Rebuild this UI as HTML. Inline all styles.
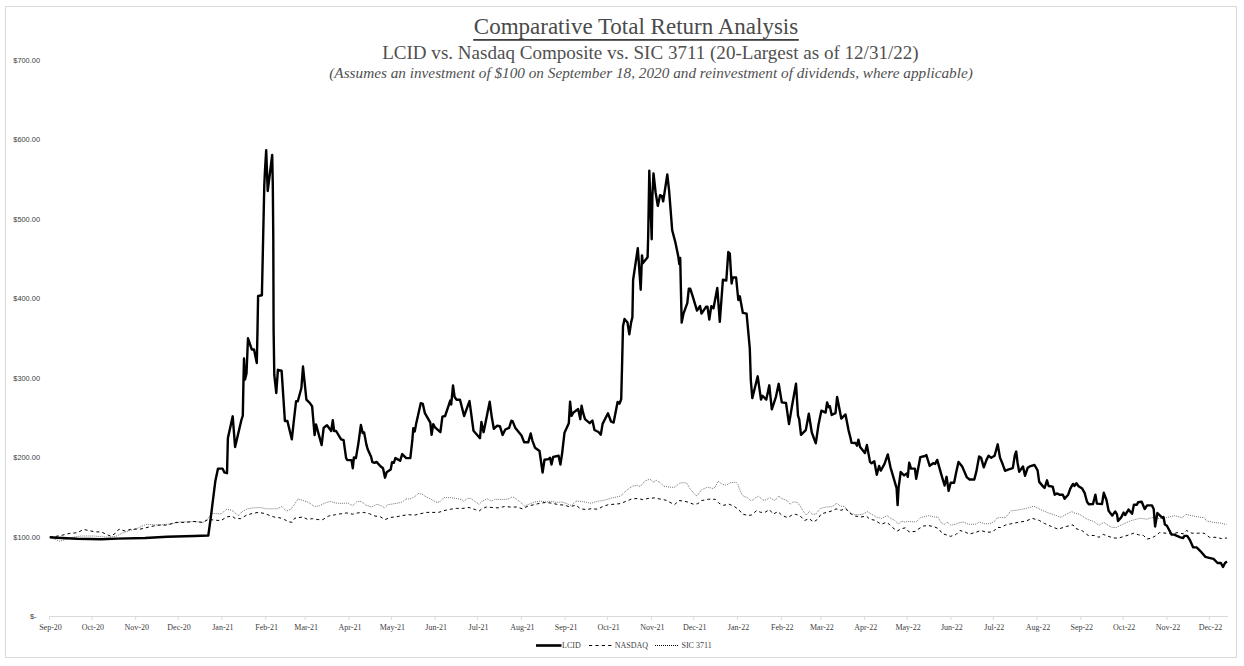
<!DOCTYPE html>
<html><head><meta charset="utf-8"><style>
html,body{margin:0;padding:0;background:#fff;}
svg{display:block;}
text{font-family:"Liberation Serif",serif;fill:#404040;}
.t1{font-size:23px;fill:#4a4a4a;}
.t2{font-size:19.06px;fill:#505050;}
.t3{font-size:15.26px;font-style:italic;fill:#505050;}
.yl{font-family:"Liberation Sans",sans-serif;font-size:7.4px;fill:#404040;}
.xl{font-size:8px;fill:#404040;}
.lg{font-size:8px;fill:#404040;}
</style></head><body>
<svg width="1244" height="666" viewBox="0 0 1244 666">
<rect x="5.5" y="6.5" width="1231" height="651" fill="#fff" stroke="#d9d9d9" stroke-width="1"/>
<text x="636" y="34" text-anchor="middle" class="t1">Comparative Total Return Analysis</text>
<rect x="473.2" y="39" width="325.6" height="1.8" fill="#404040"/>
<text x="650.4" y="58.6" text-anchor="middle" class="t2">LCID vs. Nasdaq Composite vs. SIC 3711 (20-Largest as of 12/31/22)</text>
<text x="651" y="77.5" text-anchor="middle" class="t3">(Assumes an investment of $100 on September 18, 2020 and reinvestment of dividends, where applicable)</text>
<text x="40" y="539.6" text-anchor="end" class="yl">$100.00</text>
<text x="40" y="460.1" text-anchor="end" class="yl">$200.00</text>
<text x="40" y="380.7" text-anchor="end" class="yl">$300.00</text>
<text x="40" y="301.3" text-anchor="end" class="yl">$400.00</text>
<text x="40" y="221.8" text-anchor="end" class="yl">$500.00</text>
<text x="40" y="142.4" text-anchor="end" class="yl">$600.00</text>
<text x="40" y="63.0" text-anchor="end" class="yl">$700.00</text>
<text x="30" y="619.0" class="yl">$-</text>
<line x1="49.5" y1="616.5" x2="1228" y2="616.5" stroke="#d9d9d9" stroke-width="1"/>
<line x1="49.5" y1="616.4" x2="49.5" y2="619.9" stroke="#d9d9d9" stroke-width="1"/>
<text x="50.5" y="629.5" text-anchor="middle" class="xl">Sep-20</text>
<line x1="91.9" y1="616.4" x2="91.9" y2="619.9" stroke="#d9d9d9" stroke-width="1"/>
<text x="92.9" y="629.5" text-anchor="middle" class="xl">Oct-20</text>
<line x1="135.7" y1="616.4" x2="135.7" y2="619.9" stroke="#d9d9d9" stroke-width="1"/>
<text x="136.7" y="629.5" text-anchor="middle" class="xl">Nov-20</text>
<line x1="178.1" y1="616.4" x2="178.1" y2="619.9" stroke="#d9d9d9" stroke-width="1"/>
<text x="179.1" y="629.5" text-anchor="middle" class="xl">Dec-20</text>
<line x1="221.9" y1="616.4" x2="221.9" y2="619.9" stroke="#d9d9d9" stroke-width="1"/>
<text x="222.9" y="629.5" text-anchor="middle" class="xl">Jan-21</text>
<line x1="265.7" y1="616.4" x2="265.7" y2="619.9" stroke="#d9d9d9" stroke-width="1"/>
<text x="266.7" y="629.5" text-anchor="middle" class="xl">Feb-21</text>
<line x1="305.2" y1="616.4" x2="305.2" y2="619.9" stroke="#d9d9d9" stroke-width="1"/>
<text x="306.2" y="629.5" text-anchor="middle" class="xl">Mar-21</text>
<line x1="349.0" y1="616.4" x2="349.0" y2="619.9" stroke="#d9d9d9" stroke-width="1"/>
<text x="350.0" y="629.5" text-anchor="middle" class="xl">Apr-21</text>
<line x1="391.4" y1="616.4" x2="391.4" y2="619.9" stroke="#d9d9d9" stroke-width="1"/>
<text x="392.4" y="629.5" text-anchor="middle" class="xl">May-21</text>
<line x1="435.2" y1="616.4" x2="435.2" y2="619.9" stroke="#d9d9d9" stroke-width="1"/>
<text x="436.2" y="629.5" text-anchor="middle" class="xl">Jun-21</text>
<line x1="477.6" y1="616.4" x2="477.6" y2="619.9" stroke="#d9d9d9" stroke-width="1"/>
<text x="478.6" y="629.5" text-anchor="middle" class="xl">Jul-21</text>
<line x1="521.4" y1="616.4" x2="521.4" y2="619.9" stroke="#d9d9d9" stroke-width="1"/>
<text x="522.4" y="629.5" text-anchor="middle" class="xl">Aug-21</text>
<line x1="565.2" y1="616.4" x2="565.2" y2="619.9" stroke="#d9d9d9" stroke-width="1"/>
<text x="566.2" y="629.5" text-anchor="middle" class="xl">Sep-21</text>
<line x1="607.6" y1="616.4" x2="607.6" y2="619.9" stroke="#d9d9d9" stroke-width="1"/>
<text x="608.6" y="629.5" text-anchor="middle" class="xl">Oct-21</text>
<line x1="651.4" y1="616.4" x2="651.4" y2="619.9" stroke="#d9d9d9" stroke-width="1"/>
<text x="652.4" y="629.5" text-anchor="middle" class="xl">Nov-21</text>
<line x1="693.7" y1="616.4" x2="693.7" y2="619.9" stroke="#d9d9d9" stroke-width="1"/>
<text x="694.7" y="629.5" text-anchor="middle" class="xl">Dec-21</text>
<line x1="737.5" y1="616.4" x2="737.5" y2="619.9" stroke="#d9d9d9" stroke-width="1"/>
<text x="738.5" y="629.5" text-anchor="middle" class="xl">Jan-22</text>
<line x1="781.3" y1="616.4" x2="781.3" y2="619.9" stroke="#d9d9d9" stroke-width="1"/>
<text x="782.3" y="629.5" text-anchor="middle" class="xl">Feb-22</text>
<line x1="820.9" y1="616.4" x2="820.9" y2="619.9" stroke="#d9d9d9" stroke-width="1"/>
<text x="821.9" y="629.5" text-anchor="middle" class="xl">Mar-22</text>
<line x1="864.7" y1="616.4" x2="864.7" y2="619.9" stroke="#d9d9d9" stroke-width="1"/>
<text x="865.7" y="629.5" text-anchor="middle" class="xl">Apr-22</text>
<line x1="907.1" y1="616.4" x2="907.1" y2="619.9" stroke="#d9d9d9" stroke-width="1"/>
<text x="908.1" y="629.5" text-anchor="middle" class="xl">May-22</text>
<line x1="950.9" y1="616.4" x2="950.9" y2="619.9" stroke="#d9d9d9" stroke-width="1"/>
<text x="951.9" y="629.5" text-anchor="middle" class="xl">Jun-22</text>
<line x1="993.3" y1="616.4" x2="993.3" y2="619.9" stroke="#d9d9d9" stroke-width="1"/>
<text x="994.3" y="629.5" text-anchor="middle" class="xl">Jul-22</text>
<line x1="1037.0" y1="616.4" x2="1037.0" y2="619.9" stroke="#d9d9d9" stroke-width="1"/>
<text x="1038.0" y="629.5" text-anchor="middle" class="xl">Aug-22</text>
<line x1="1080.8" y1="616.4" x2="1080.8" y2="619.9" stroke="#d9d9d9" stroke-width="1"/>
<text x="1081.8" y="629.5" text-anchor="middle" class="xl">Sep-22</text>
<line x1="1123.2" y1="616.4" x2="1123.2" y2="619.9" stroke="#d9d9d9" stroke-width="1"/>
<text x="1124.2" y="629.5" text-anchor="middle" class="xl">Oct-22</text>
<line x1="1167.0" y1="616.4" x2="1167.0" y2="619.9" stroke="#d9d9d9" stroke-width="1"/>
<text x="1168.0" y="629.5" text-anchor="middle" class="xl">Nov-22</text>
<line x1="1209.4" y1="616.4" x2="1209.4" y2="619.9" stroke="#d9d9d9" stroke-width="1"/>
<text x="1210.4" y="629.5" text-anchor="middle" class="xl">Dec-22</text>
<path d="M49.8,537.3 L55.5,539.6 L59.5,541.2 L65.1,539.6 L73.1,537.2 L81.2,536.0 L93.2,536.0 L102.9,536.8 L109.3,537.2 L115.7,536.4 L122.2,533.1 L129.4,530.7 L137.4,528.3 L143.0,525.5 L147.2,524.2 L158.0,525.1 L171.5,523.8 L180.5,522.0 L194.0,521.5 L203.0,522.4 L208.5,518.0 L212.0,513.4 L221.0,513.9 L226.5,509.4 L231.9,510.3 L235.0,512.9 L238.6,515.6 L242.2,511.5 L247.6,508.8 L253.0,507.9 L260.2,507.5 L266.5,508.8 L272.8,508.8 L277.3,508.8 L281.8,506.6 L286.4,511.1 L290.9,509.3 L294.5,504.3 L298.1,498.9 L303.5,500.7 L308.9,502.5 L314.3,506.6 L319.7,505.7 L325.1,503.0 L330.0,501.4 L335.4,503.0 L340.8,503.4 L348.0,503.0 L352.5,505.7 L357.0,501.6 L361.5,501.6 L366.0,505.2 L371.4,507.0 L376.8,504.3 L381.4,505.7 L384.5,507.9 L387.7,504.8 L393.1,503.9 L398.5,503.0 L403.0,501.6 L405.7,498.9 L410.2,498.9 L414.7,496.7 L418.3,493.5 L421.9,494.0 L425.5,496.5 L430.4,498.9 L435.8,502.1 L439.4,502.1 L443.9,497.6 L450.2,497.6 L456.5,498.5 L461.0,499.4 L463.7,501.2 L467.3,498.5 L470.9,498.5 L474.5,501.2 L479.1,504.3 L482.7,500.7 L487.2,498.9 L491.7,501.2 L494.4,499.4 L499.8,499.4 L504.3,499.4 L508.8,498.9 L512.4,496.7 L516.0,498.9 L519.6,501.6 L522.3,503.9 L524.5,506.0 L529.0,504.2 L534.4,502.0 L540.7,501.1 L547.0,502.0 L550.6,501.1 L556.0,502.4 L561.4,502.0 L565.9,503.3 L571.4,505.6 L575.9,501.1 L581.3,501.5 L586.7,502.4 L591.2,503.3 L596.6,501.5 L602.0,500.6 L606.5,499.7 L611.9,497.9 L616.4,497.0 L620.4,496.1 L625.8,491.1 L632.1,486.2 L637.5,485.3 L640.2,486.6 L644.7,481.2 L650.1,479.0 L652.8,482.1 L656.4,480.3 L660.0,482.6 L663.6,486.2 L669.1,487.1 L674.5,487.3 L679.9,483.0 L684.4,482.6 L687.1,483.5 L689.8,488.4 L693.4,492.9 L697.0,496.1 L701.5,489.8 L707.8,487.1 L712.3,488.4 L715.0,487.5 L718.1,481.3 L722.6,484.4 L726.2,485.3 L730.7,482.6 L736.1,482.2 L737.9,484.4 L740.6,492.1 L743.3,496.1 L747.8,497.9 L751.4,501.1 L755.0,497.9 L758.6,496.3 L763.2,500.2 L766.8,499.7 L769.5,497.5 L774.9,500.6 L778.5,496.1 L782.1,498.8 L786.6,500.2 L790.2,504.2 L792.9,502.0 L797.4,502.4 L800.1,506.0 L802.8,510.5 L806.4,515.0 L809.5,511.4 L812.7,514.3 L815.8,514.1 L820.3,508.5 L825.7,507.1 L832.0,506.7 L837.0,503.1 L840.1,506.2 L844.6,506.4 L847.3,509.8 L851.8,513.9 L857.3,514.8 L862.7,514.3 L867.2,511.6 L871.7,514.3 L876.2,517.0 L881.6,518.4 L887.0,515.7 L891.5,518.8 L895.1,520.6 L898.7,524.2 L901.4,521.1 L904.5,522.0 L909.0,521.5 L916.2,522.0 L920.7,517.5 L928.8,515.7 L934.2,517.0 L937.8,517.0 L941.4,522.9 L944.1,524.7 L946.8,522.0 L950.5,525.1 L954.1,524.7 L958.6,522.9 L963.1,522.0 L968.5,524.2 L975.7,524.2 L979.3,522.0 L984.7,523.8 L989.2,523.8 L993.7,522.0 L997.3,517.9 L1000.5,517.5 L1005.4,517.7 L1010.8,510.9 L1017.6,510.0 L1024.3,508.9 L1033.8,506.2 L1040.5,509.6 L1048.6,513.0 L1056.8,515.7 L1060.8,517.3 L1067.6,513.6 L1071.6,511.6 L1075.0,513.2 L1079.8,514.4 L1087.0,519.2 L1094.2,521.7 L1099.0,525.3 L1103.8,522.3 L1111.0,527.1 L1115.8,527.7 L1123.0,524.1 L1131.5,520.5 L1139.9,518.3 L1147.1,519.2 L1151.9,517.6 L1158.1,518.4 L1166.2,517.7 L1174.3,515.7 L1182.4,517.7 L1185.8,514.3 L1191.9,515.7 L1198.6,517.0 L1204.1,517.7 L1206.8,521.1 L1213.5,522.4 L1220.3,523.1 L1226.4,524.5" fill="none" stroke="#000" stroke-width="0.8" stroke-dasharray="0.9 1.1" stroke-opacity="0.75"/>
<path d="M49.8,537.3 L55.0,536.5 L61.0,535.5 L69.1,533.5 L77.2,532.7 L83.6,529.5 L89.2,530.6 L94.8,531.9 L101.3,531.9 L106.1,534.3 L110.9,536.2 L115.7,533.1 L119.0,529.1 L125.4,531.1 L130.2,529.4 L136.6,529.1 L140.0,529.2 L149.0,527.0 L158.0,525.1 L167.0,525.1 L176.0,522.4 L185.0,522.4 L194.0,521.5 L203.0,522.4 L208.5,519.3 L214.8,520.2 L221.0,520.6 L226.5,517.0 L231.9,516.1 L235.0,518.3 L240.4,518.7 L246.7,515.1 L252.1,513.5 L258.4,512.4 L264.7,513.5 L271.0,516.0 L275.5,517.4 L280.0,517.8 L284.5,519.6 L289.1,521.9 L292.2,522.3 L294.5,518.3 L298.1,517.8 L302.6,516.9 L307.1,519.2 L312.5,518.7 L317.9,519.6 L322.8,519.6 L328.7,516.0 L335.4,514.7 L340.8,513.8 L346.7,512.9 L352.5,514.2 L357.9,512.9 L363.8,512.4 L369.6,513.8 L375.0,516.0 L380.5,516.9 L385.0,519.6 L390.4,517.4 L396.2,516.9 L402.1,515.6 L408.4,514.7 L414.7,515.1 L420.1,513.8 L426.4,512.4 L432.2,512.4 L438.5,512.4 L443.9,510.6 L450.2,509.3 L456.5,508.4 L462.8,508.4 L469.1,507.5 L475.5,509.7 L479.1,511.1 L481.3,509.3 L486.3,507.0 L492.1,507.5 L498.0,507.9 L504.3,506.6 L510.6,507.0 L516.9,507.0 L522.3,508.8 L528.1,506.0 L534.0,504.7 L539.8,503.3 L546.1,502.4 L552.4,503.3 L558.7,504.7 L564.6,505.1 L569.5,506.9 L575.9,505.1 L580.4,508.7 L586.2,509.6 L591.2,508.7 L597.5,509.2 L602.9,506.5 L608.3,504.7 L614.6,504.2 L620.4,503.6 L626.3,501.2 L632.1,498.8 L638.4,498.5 L642.9,499.7 L649.2,498.2 L654.6,497.9 L660.9,499.2 L666.4,500.3 L670.0,502.4 L674.5,504.6 L679.0,500.6 L683.5,501.0 L687.1,501.9 L689.8,502.8 L693.4,504.2 L697.9,503.7 L701.5,500.6 L708.7,499.2 L715.4,499.3 L719.0,503.3 L723.5,505.3 L728.9,504.1 L734.3,506.5 L738.8,509.6 L742.4,514.0 L747.8,515.5 L751.4,515.0 L756.8,510.5 L760.5,512.3 L765.0,512.3 L769.5,509.6 L773.1,514.1 L778.0,511.6 L782.1,515.5 L787.9,517.7 L791.1,515.5 L795.6,514.3 L800.1,515.9 L804.6,520.5 L809.1,518.6 L813.6,522.0 L817.6,519.3 L821.2,513.9 L826.2,512.5 L831.1,511.2 L836.1,508.9 L841.0,510.3 L845.5,508.5 L850.0,513.4 L855.5,516.1 L860.9,517.0 L866.3,516.1 L869.9,519.3 L874.8,520.2 L878.9,522.9 L881.6,524.2 L886.1,522.4 L889.2,524.2 L892.8,527.8 L897.3,531.0 L901.4,528.7 L905.4,527.8 L909.0,531.9 L915.3,531.4 L918.9,528.7 L923.4,526.0 L928.8,525.6 L934.2,526.8 L938.7,528.7 L942.3,533.7 L946.8,535.0 L950.5,536.4 L955.9,534.6 L959.9,530.5 L964.9,531.9 L969.4,534.1 L975.7,532.3 L981.1,530.5 L986.5,532.3 L992.8,531.9 L997.3,527.4 L1000.5,527.5 L1005.4,525.1 L1010.8,523.8 L1018.9,522.2 L1025.7,521.1 L1032.4,518.4 L1039.2,520.4 L1044.6,523.5 L1051.4,526.5 L1058.1,529.2 L1066.2,526.5 L1073.0,524.9 L1075.7,528.5 L1082.2,530.7 L1088.2,535.5 L1094.2,535.5 L1099.0,537.3 L1103.2,534.3 L1107.4,536.1 L1113.4,537.9 L1118.2,538.2 L1123.0,536.7 L1129.0,534.9 L1133.9,533.1 L1138.7,534.9 L1143.5,535.5 L1147.1,539.1 L1151.9,537.9 L1155.4,535.9 L1159.5,532.6 L1166.2,533.2 L1173.0,533.9 L1177.0,532.6 L1183.8,533.9 L1186.5,530.5 L1191.9,533.2 L1198.6,533.2 L1204.1,533.2 L1209.5,537.3 L1216.2,537.3 L1221.6,538.6 L1227.0,538.0" fill="none" stroke="#000" stroke-width="1" stroke-dasharray="3 3"/>
<path d="M49.8,537.3 L57.0,537.8 L77.0,538.8 L101.3,539.2 L117.3,538.6 L145.0,538.0 L167.0,536.8 L194.0,536.0 L208.3,535.5 L210.8,517.3 L215.3,481.3 L218.0,468.6 L222.5,468.6 L224.3,472.3 L227.0,473.2 L227.9,438.0 L230.3,427.2 L232.7,416.3 L235.1,447.0 L241.4,420.0 L242.8,415.6 L243.5,379.5 L244.0,358.5 L245.0,379.5 L246.5,373.5 L248.0,338.3 L251.8,349.5 L254.0,349.5 L256.8,363.0 L257.5,330.0 L258.1,296.0 L261.9,295.3 L263.1,240.0 L264.3,185.0 L265.0,170.0 L266.2,150.2 L267.7,191.0 L272.2,155.0 L272.8,185.0 L273.3,240.0 L273.6,330.0 L274.3,375.0 L276.3,393.0 L277.9,369.8 L281.6,370.7 L284.9,421.0 L287.4,421.0 L291.8,439.3 L294.0,419.4 L296.1,401.2 L297.8,401.2 L301.4,388.0 L303.0,366.5 L306.4,399.6 L309.7,402.9 L312.1,406.2 L314.6,435.1 L316.0,424.4 L321.6,445.0 L323.7,427.7 L327.0,425.2 L331.2,431.0 L332.8,420.2 L334.1,431.0 L336.1,431.0 L341.1,439.3 L343.6,440.1 L346.1,458.1 L347.4,460.1 L351.5,460.1 L352.8,468.2 L353.9,457.4 L355.9,458.1 L358.2,444.6 L360.9,425.0 L362.7,433.1 L364.1,432.4 L366.4,444.6 L367.7,449.3 L371.1,456.8 L372.4,462.2 L374.5,462.8 L376.5,461.9 L380.5,466.2 L383.0,468.2 L385.0,477.7 L386.6,472.3 L390.7,469.6 L392.0,462.2 L393.8,462.8 L395.4,458.1 L400.1,460.8 L402.2,454.1 L406.2,458.1 L410.3,458.1 L412.3,440.5 L413.3,428.2 L414.7,431.5 L416.1,424.1 L420.8,403.1 L422.8,403.8 L424.9,413.2 L430.3,422.7 L431.6,434.9 L433.2,424.1 L435.0,427.4 L440.4,432.2 L442.4,416.6 L445.1,416.0 L448.5,405.8 L450.3,400.4 L451.2,404.5 L453.0,385.5 L454.6,397.0 L456.6,399.7 L460.0,399.7 L464.1,416.0 L469.5,401.1 L473.5,430.8 L480.0,438.2 L481.4,422.0 L483.6,432.2 L489.7,401.8 L491.8,417.3 L493.8,428.8 L497.2,425.7 L499.9,426.1 L502.6,434.9 L505.3,429.5 L509.1,427.8 L511.4,420.7 L512.7,421.4 L515.4,428.1 L521.5,435.5 L524.2,442.3 L528.2,442.3 L530.7,433.5 L532.3,440.3 L535.0,447.7 L539.5,451.0 L542.6,472.5 L544.5,459.7 L548.5,459.1 L550.1,457.7 L551.5,464.5 L553.2,457.0 L558.6,455.7 L560.4,464.5 L562.0,454.3 L564.5,432.7 L568.8,423.2 L570.1,401.6 L571.5,415.8 L573.5,412.4 L578.2,409.1 L580.3,419.2 L581.6,405.7 L583.0,412.4 L585.0,419.2 L589.7,423.2 L592.4,420.5 L594.5,430.0 L598.5,432.0 L600.8,434.7 L602.6,423.9 L608.0,413.3 L611.0,421.5 L613.6,422.6 L617.6,401.9 L619.4,403.7 L621.2,399.2 L622.1,364.1 L623.0,326.2 L624.5,319.0 L627.5,322.6 L629.3,334.3 L631.1,322.6 L632.4,317.2 L633.1,280.0 L637.8,248.2 L640.7,289.7 L642.0,255.4 L642.8,263.2 L647.6,257.2 L648.2,235.7 L649.3,170.8 L650.2,196.0 L651.7,239.3 L652.4,196.0 L653.5,173.5 L655.6,192.4 L657.8,205.9 L660.1,195.1 L661.9,196.0 L663.2,201.4 L667.3,174.4 L669.1,190.6 L672.2,230.3 L675.5,242.9 L678.3,256.5 L679.3,264.0 L680.2,258.0 L680.8,285.0 L681.7,322.6 L683.5,313.6 L687.3,303.1 L688.8,288.8 L690.3,288.8 L692.5,295.6 L697.0,310.6 L700.0,306.1 L701.5,313.6 L706.0,306.8 L707.5,306.8 L709.3,319.6 L711.3,306.1 L713.5,308.3 L717.3,288.0 L719.8,321.8 L722.9,279.8 L726.3,280.5 L728.3,252.0 L729.8,253.5 L731.6,283.5 L732.8,277.5 L736.1,277.5 L738.3,300.0 L739.8,296.3 L742.8,312.8 L746.6,313.6 L749.8,348.5 L750.8,380.0 L752.3,398.1 L757.7,376.3 L761.0,399.6 L762.5,395.8 L766.3,399.6 L769.3,385.3 L771.8,409.3 L776.0,396.6 L778.7,383.8 L781.8,402.4 L786.0,403.0 L789.0,424.1 L792.0,406.0 L796.0,383.8 L798.0,415.6 L799.2,419.2 L801.0,434.9 L805.8,430.1 L808.8,413.8 L811.8,432.5 L815.8,443.3 L818.4,425.3 L821.4,410.6 L825.6,412.6 L827.1,402.4 L828.6,407.2 L829.8,406.0 L831.7,415.0 L835.5,413.2 L837.1,397.0 L841.3,418.6 L845.5,414.4 L848.5,430.1 L850.5,438.0 L851.5,442.7 L855.5,443.0 L857.0,445.7 L858.4,439.6 L860.1,447.0 L864.9,453.1 L866.9,445.0 L870.0,461.9 L871.6,463.2 L874.3,461.2 L876.8,474.7 L879.1,466.0 L880.8,470.7 L884.5,463.9 L887.8,454.5 L890.5,467.3 L896.6,488.2 L897.6,505.1 L898.6,487.6 L900.7,472.0 L904.1,475.4 L906.8,473.4 L907.8,476.8 L909.2,462.6 L911.1,468.6 L914.9,468.6 L916.2,478.8 L920.3,457.2 L925.0,456.0 L926.4,455.1 L927.7,459.5 L929.7,465.9 L933.1,463.2 L935.1,463.9 L937.2,459.9 L941.2,474.1 L944.6,485.5 L946.6,476.8 L948.6,490.9 L950.7,482.8 L954.1,482.8 L956.1,472.7 L958.5,461.9 L962.2,466.6 L966.9,477.4 L969.6,479.5 L974.3,479.5 L976.4,471.4 L979.1,456.5 L981.1,457.8 L983.8,467.3 L986.5,459.9 L988.5,455.8 L991.2,457.8 L994.6,455.8 L997.7,444.3 L1000.0,457.6 L1002.7,464.3 L1005.1,470.8 L1008.1,469.7 L1012.8,468.1 L1014.9,454.9 L1016.2,451.5 L1017.6,463.0 L1019.2,471.8 L1023.0,466.4 L1025.0,475.8 L1027.7,467.7 L1029.7,466.4 L1034.5,465.0 L1037.6,470.4 L1039.2,481.9 L1043.2,486.6 L1044.6,488.0 L1047.0,480.3 L1048.6,486.0 L1052.7,486.6 L1054.7,494.7 L1056.8,493.4 L1059.5,494.7 L1062.8,494.7 L1064.6,498.8 L1068.2,494.7 L1070.3,488.6 L1073.0,483.9 L1074.3,485.9 L1076.4,483.2 L1078.6,486.2 L1082.2,488.6 L1084.6,492.8 L1087.0,501.8 L1088.8,504.2 L1093.0,504.0 L1095.4,494.6 L1096.9,503.6 L1102.0,504.0 L1103.8,492.8 L1106.5,500.0 L1108.6,510.8 L1112.2,515.6 L1115.2,511.4 L1117.0,514.4 L1118.0,521.0 L1121.2,517.4 L1123.6,512.6 L1125.2,515.0 L1128.5,509.6 L1132.1,513.8 L1133.9,504.8 L1136.9,504.8 L1138.1,502.2 L1141.7,501.8 L1144.7,509.0 L1147.1,505.4 L1151.9,505.4 L1153.7,509.0 L1155.1,526.5 L1157.4,513.0 L1160.1,515.7 L1162.2,517.7 L1163.5,517.0 L1164.9,524.5 L1166.9,525.8 L1171.6,534.6 L1174.3,534.6 L1177.0,535.9 L1180.4,537.3 L1183.1,538.0 L1184.5,535.9 L1187.2,535.9 L1189.9,540.0 L1193.2,547.4 L1196.6,547.4 L1201.4,552.2 L1205.4,556.9 L1208.1,557.6 L1213.5,558.9 L1217.6,563.0 L1220.9,563.0 L1223.0,567.0 L1225.0,563.0 L1227.0,561.6" fill="none" stroke="#000" stroke-width="2.4" stroke-linejoin="round"/>
<line x1="536" y1="645.5" x2="561.5" y2="645.5" stroke="#000" stroke-width="2.6"/>
<text x="562" y="647.8" class="lg">LCID</text>
<line x1="589" y1="645.5" x2="612.5" y2="645.5" stroke="#000" stroke-width="1" stroke-dasharray="3.2 3.2"/>
<text x="614.8" y="647.8" class="lg">NASDAQ</text>
<line x1="655" y1="645.5" x2="678.5" y2="645.5" stroke="#000" stroke-width="1" stroke-dasharray="1 1"/>
<text x="681.5" y="647.8" class="lg">SIC 3711</text>
</svg>
</body></html>
